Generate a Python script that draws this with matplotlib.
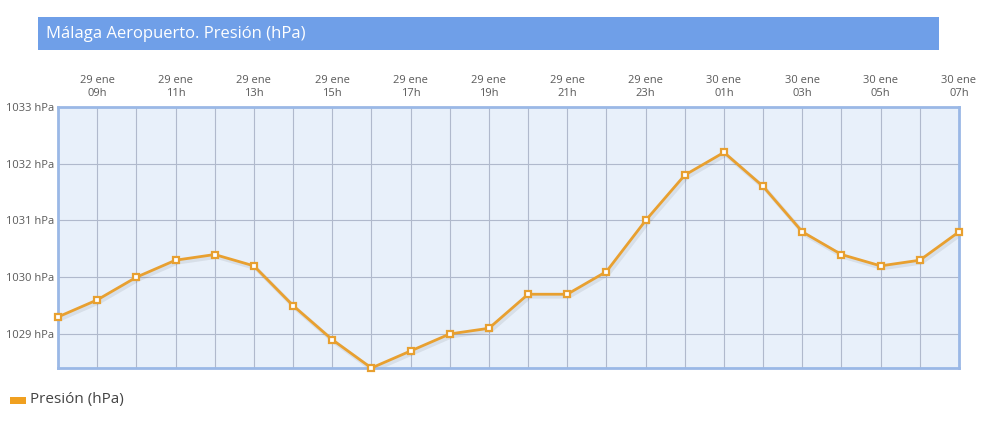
import numpy as np
import matplotlib.pyplot as plt
from matplotlib.patches import Rectangle

plt.rcParams['font.family'] = ['Open Sans', 'DejaVu Sans']

# datos: presión horaria, 29 ene 08h -> 30 ene 07h
horas = ['29 ene\n08h', '29 ene\n09h', '29 ene\n10h', '29 ene\n11h', '29 ene\n12h', '29 ene\n13h',
         '29 ene\n14h', '29 ene\n15h', '29 ene\n16h', '29 ene\n17h', '29 ene\n18h', '29 ene\n19h',
         '29 ene\n20h', '29 ene\n21h', '29 ene\n22h', '29 ene\n23h', '30 ene\n00h', '30 ene\n01h',
         '30 ene\n02h', '30 ene\n03h', '30 ene\n04h', '30 ene\n05h', '30 ene\n06h', '30 ene\n07h']
presion = [1029.3, 1029.6, 1030.0, 1030.3, 1030.4, 1030.2, 1029.5, 1028.9, 1028.4, 1028.7,
           1029.0, 1029.1, 1029.7, 1029.7, 1030.1, 1031.0, 1031.8, 1032.2, 1031.6, 1030.8,
           1030.4, 1030.2, 1030.3, 1030.8]
yticks = [1029, 1030, 1031, 1032, 1033]

fig = plt.figure(figsize=(9.81, 4.26), dpi=100)

# barra del título
fig.patches.append(Rectangle((38/981, 1-50/426), 901/981, 33/426, transform=fig.transFigure,
                             facecolor='#6f9fe8', edgecolor='none'))
fig.text(46/981, 1-34/426, 'Málaga Aeropuerto. Presión (hPa)', color='white', fontsize=12,
         va='center', ha='left')

ax = fig.add_axes([58/981, 1-368/426, 901/981, 261/426])
ax.set_facecolor('#e8f0fa')

x = np.arange(len(presion))
# sombra suave
ax.plot(x + 0.05, np.array(presion) - 0.04, color='#000000', alpha=0.07, lw=3, zorder=2)
ax.plot(x, presion, color='#e8a030', lw=2, zorder=3, marker='s', markersize=5,
        markerfacecolor='white', markeredgecolor='#e8a030', markeredgewidth=1.6, clip_on=False)

ax.set_xlim(0, len(presion) - 1)
ax.set_ylim(1028.4, 1033)

ax.set_xticks(x, minor=True)
ax.set_xticks(x[1::2])
ax.set_xticklabels(horas[1::2])
ax.xaxis.tick_top()
ax.set_yticks(yticks)
ax.set_yticklabels([f'{v} hPa' for v in yticks])
ax.tick_params(axis='both', which='both', length=0, labelsize=8, colors='#5a5a5a', pad=3)
ax.tick_params(axis='x', pad=6)
ax.grid(True, which='both', color='#b0b9cc', lw=0.8)
ax.set_axisbelow(True)
for side in ['left', 'bottom', 'right', 'top']:
    ax.spines[side].set_color('#9ab8e6')
    ax.spines[side].set_linewidth(2)

# leyenda
fig.patches.append(Rectangle((10/981, 1-404/426), 16/981, 7/426, transform=fig.transFigure,
                             facecolor='#f0a020', edgecolor='none'))
fig.text(30/981, 1-400/426, 'Presión (hPa)', color='#444444', fontsize=11, va='center')

fig.savefig('out.png', dpi=100)
